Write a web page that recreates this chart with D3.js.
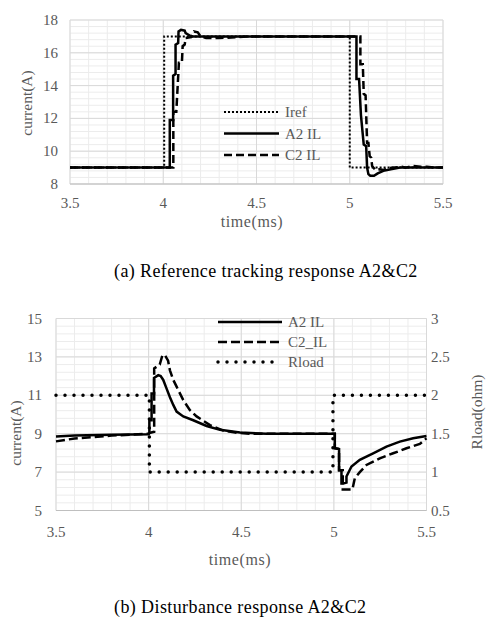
<!DOCTYPE html>
<html>
<head>
<meta charset="utf-8">
<script src="https://cdn.jsdelivr.net/npm/d3@7"></script>
<style>
body { margin: 0; background: #fff; }
</style>
</head>
<body>
<div id="chart"></div>
<script>
// shared time axis
var timeTicks = [3.5, 4, 4.5, 5, 5.5];

// (a) reference tracking
var trackTicks = [8, 10, 12, 14, 16, 18];
var irefA = [[3.5,9],[4.005,9],[4.005,17],[5.0,17],[5.0,9],[5.5,9]];
var a2A = [[3.5,9],[4.035,9],[4.035,11.9],[4.053,11.9],[4.053,14.6],[4.066,14.7],[4.066,16.5],[4.08,16.6],
  [4.082,17.3],[4.095,17.4],[4.115,17.35],[4.12,17.2],[4.135,17.1],[4.15,17.0],[5.036,17.0],[5.036,14.4],
  [5.05,14.4],[5.06,12.2],[5.075,10.4],[5.088,10.3],[5.093,9.0],[5.1,8.6],[5.11,8.5],[5.13,8.5],[5.15,8.65],
  [5.18,8.8],[5.22,8.9],[5.27,9.0],[5.5,9.0]];
var c2A = [[3.5,9],[4.054,9],[4.054,12.4],[4.07,12.4],[4.084,15.4],[4.1,15.4],[4.104,16.4],[4.115,16.5],
  [4.12,16.9],[4.15,16.95],[4.165,17.3],[4.185,17.25],[4.2,17.0],[4.23,16.9],[4.3,16.9],[4.4,16.95],[4.45,17.0],
  [5.057,17.0],[5.057,15.3],[5.07,15.3],[5.075,13.5],[5.085,13.4],[5.093,10.5],[5.1,10.5],[5.107,9.7],[5.115,9.6],
  [5.12,9.1],[5.138,8.85],[5.16,8.9],[5.18,8.85],[5.2,8.95],[5.24,9.0],[5.28,9.05],[5.3,9.0],[5.34,9.1],
  [5.38,9.05],[5.414,9.05],[5.45,9.0],[5.5,9.0]];

// (b) disturbance
var currTicks = [5, 7, 9, 11, 13, 15];
var rloadTicks = [0.5, 1, 1.5, 2, 2.5, 3];
var a2B = [[3.5,8.85],[3.6,8.9],[3.8,8.95],[4.0,8.97],[4.004,9.05],[4.004,9.7],[4.016,9.7],[4.016,11.1],
  [4.029,11.1],[4.029,11.9],[4.052,12.05],[4.065,12.0],[4.079,11.8],[4.097,11.35],[4.115,10.9],[4.133,10.5],
  [4.151,10.15],[4.187,9.9],[4.241,9.7],[4.313,9.4],[4.385,9.2],[4.493,9.06],[4.637,9.0],[5.005,9.0],
  [5.005,8.24],[5.028,8.2],[5.028,7.1],[5.041,7.1],[5.041,6.4],[5.05,6.4],[5.068,6.45],[5.068,6.77],
  [5.095,7.29],[5.14,7.64],[5.212,7.98],[5.284,8.33],[5.356,8.59],[5.428,8.76],[5.5,8.88]];
var c2B = [[3.5,8.6],[3.6,8.75],[3.8,8.9],[4.0,9.0],[4.01,9.05],[4.03,9.1],[4.03,12.4],[4.06,12.6],
  [4.075,13.1],[4.09,13.05],[4.105,12.8],[4.115,12.3],[4.133,11.8],[4.151,11.45],[4.187,10.75],[4.223,10.23],
  [4.259,9.9],[4.331,9.45],[4.403,9.16],[4.475,9.05],[4.547,9.0],[5.005,9.0],[5.005,8.24],[5.028,8.2],
  [5.028,7.1],[5.048,7.1],[5.048,6.1],[5.1,6.1],[5.113,6.68],[5.14,7.0],[5.176,7.37],[5.248,7.72],
  [5.32,7.98],[5.392,8.24],[5.464,8.47],[5.5,8.76]];
var rloadB = [[3.5,2],[4.004,2],[4.004,1],[4.995,1],[4.995,2],[5.5,2]];

var grey = '#595959';
var serif = '"Liberation Serif", "Times New Roman", "DejaVu Serif", serif';

var svg = d3.select('#chart').append('svg')
  .attr('width', 486)
  .attr('height', 617)
  .attr('font-family', serif);

function grid(g, x, y, yMin, yMax) {
  var minorX = d3.range(35, 56).map(function(d) { return d / 10; });
  var minorY = d3.range(0, Math.round((yMax - yMin) / 0.4) + 1).map(function(i) { return yMin + i * 0.4; });
  g.selectAll('.vminor').data(minorX).enter().append('line')
    .attr('x1', x).attr('x2', x)
    .attr('y1', y(yMin)).attr('y2', y(yMax))
    .attr('stroke', '#ececec').attr('stroke-width', 1);
  g.selectAll('.hminor').data(minorY).enter().append('line')
    .attr('x1', x(3.5)).attr('x2', x(5.5))
    .attr('y1', y).attr('y2', y)
    .attr('stroke', '#ececec').attr('stroke-width', 1);
  g.selectAll('.vmajor').data(timeTicks).enter().append('line')
    .attr('x1', x).attr('x2', x)
    .attr('y1', y(yMin)).attr('y2', y(yMax))
    .attr('stroke', '#d9d9d9').attr('stroke-width', 1);
}

function hMajor(g, x, y, ticks) {
  g.selectAll('.hmajor').data(ticks).enter().append('line')
    .attr('x1', x(3.5)).attr('x2', x(5.5))
    .attr('y1', y).attr('y2', y)
    .attr('stroke', '#d9d9d9').attr('stroke-width', 1);
}

function label(txt, px, py, anchor, rot, size, color, spacing) {
  var t = svg.append('text')
    .attr('text-anchor', anchor || 'middle')
    .attr('font-family', serif)
    .attr('font-size', (size || 15) + 'px')
    .attr('fill', color || grey)
    .attr('letter-spacing', spacing || 0)
    .text(txt);
  if (rot) t.attr('transform', 'translate(' + px + ',' + py + ') rotate(-90)');
  else t.attr('x', px).attr('y', py);
  return t;
}

// ---------- chart (a) ----------
var xa = d3.scaleLinear().domain([3.5, 5.5]).range([70, 443]);
var ya = d3.scaleLinear().domain([8, 18]).range([184, 20]);
var ga = svg.append('g');
grid(ga, xa, ya, 8, 18);
hMajor(ga, xa, ya, trackTicks);
ga.append('line').attr('x1', 70).attr('x2', 443).attr('y1', ya(8)).attr('y2', ya(8))
  .attr('stroke', '#bfbfbf');

var lineA = d3.line().x(function(d) { return xa(d[0]); }).y(function(d) { return ya(d[1]); });

ga.append('path').attr('d', lineA(irefA)).attr('fill', 'none')
  .attr('stroke', '#000').attr('stroke-width', 2).attr('stroke-dasharray', '2,2');
ga.append('path').attr('d', lineA(c2A)).attr('fill', 'none')
  .attr('stroke', '#000').attr('stroke-width', 2.5).attr('stroke-dasharray', '8,4');
ga.append('path').attr('d', lineA(a2A)).attr('fill', 'none')
  .attr('stroke', '#000').attr('stroke-width', 2.5);

trackTicks.forEach(function(v) { label(v, 58, ya(v) + 5, 'end'); });
timeTicks.forEach(function(v) { label(v, xa(v), 208, 'middle'); });
label('time(ms)', 252, 227, 'middle', false, 16, grey, 0.6);
label('current(A)', 32, 103, 'middle', true, 15.5);

// legend (a)
var legA = [
  { name: 'Iref', dash: '2,2', w: 2 },
  { name: 'A2 IL', dash: null, w: 2.5 },
  { name: 'C2 IL', dash: '8,4', w: 2.5 }
];
legA.forEach(function(d, i) {
  var yy = 112 + i * 21.5;
  ga.append('line').attr('x1', 224).attr('x2', 279).attr('y1', yy).attr('y2', yy)
    .attr('stroke', '#000').attr('stroke-width', d.w).attr('stroke-dasharray', d.dash);
  label(d.name, 285, yy + 5, 'start');
});

label('(a) Reference tracking response A2&C2', 114, 277, 'start', false, 18, '#000', 0.4);

// ---------- chart (b) ----------
var xb = d3.scaleLinear().domain([3.5, 5.5]).range([56, 426.5]);
var yb = d3.scaleLinear().domain([5, 15]).range([510.5, 318.5]);
var yr = d3.scaleLinear().domain([0.5, 3]).range([510.5, 318.5]);
var gb = svg.append('g');
grid(gb, xb, yb, 5, 15);
hMajor(gb, xb, yb, currTicks);
gb.append('line').attr('x1', 56).attr('x2', 426.5).attr('y1', yb(5)).attr('y2', yb(5))
  .attr('stroke', '#bfbfbf');

var lineB = d3.line().x(function(d) { return xb(d[0]); }).y(function(d) { return yb(d[1]); });
var lineR = d3.line().x(function(d) { return xb(d[0]); }).y(function(d) { return yr(d[1]); });

gb.append('path').attr('d', lineR(rloadB)).attr('fill', 'none')
  .attr('stroke', '#000').attr('stroke-width', 3.5).attr('stroke-linecap', 'round')
  .attr('stroke-dasharray', '0,9');
gb.append('path').attr('d', lineB(c2B)).attr('fill', 'none')
  .attr('stroke', '#000').attr('stroke-width', 2.5).attr('stroke-dasharray', '9,4');
gb.append('path').attr('d', lineB(a2B)).attr('fill', 'none')
  .attr('stroke', '#000').attr('stroke-width', 2.5);

currTicks.forEach(function(v) { label(v, 42, yb(v) + 5, 'end'); });
rloadTicks.forEach(function(v) { label(v, 431, yr(v) + 5, 'start'); });
timeTicks.forEach(function(v) { label(v, xb(v), 537, 'middle'); });
label('time(ms)', 240, 565, 'middle', false, 16, grey, 0.6);
label('current(A)', 21, 433, 'middle', true, 15.5);
label('Rload(ohm)', 482, 412, 'middle', true, 15.5);

// legend (b)
var legB = [
  { name: 'A2 IL', dash: null, w: 2.5, cap: 'butt', x2: 282 },
  { name: 'C2_IL', dash: '9,4', w: 2.5, cap: 'butt', x2: 282 },
  { name: 'Rload', dash: '0,9', w: 3.5, cap: 'round', x2: 276 }
];
legB.forEach(function(d, i) {
  var yy = 322 + i * 20;
  gb.append('line').attr('x1', 218).attr('x2', d.x2).attr('y1', yy).attr('y2', yy)
    .attr('stroke', '#000').attr('stroke-width', d.w).attr('stroke-dasharray', d.dash)
    .attr('stroke-linecap', d.cap);
  label(d.name, 288, yy + 5, 'start');
});

label('(b) Disturbance response A2&C2', 114, 613, 'start', false, 18, '#000', 0.4);
</script>
</body>
</html>
